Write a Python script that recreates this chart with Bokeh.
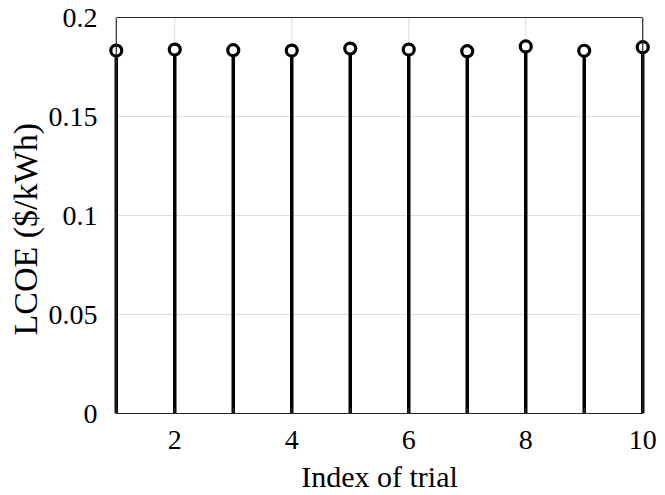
from bokeh.plotting import figure
from bokeh.models import FixedTicker, CustomJSTickFormatter, Span, LinearAxis, Title
from bokeh.embed import file_html
from bokeh.resources import INLINE

# LCOE obtained in each of ten optimisation trials
trials = [1, 2, 3, 4, 5, 6, 7, 8, 9, 10]
lcoe = [0.1833, 0.1838, 0.1835, 0.1833, 0.1843, 0.1838, 0.1830, 0.1854, 0.1832, 0.1850]

x_ticks = [2, 4, 6, 8, 10]
x_minor = [1, 3, 5, 7, 9]
y_ticks = [0, 0.05, 0.1, 0.15, 0.2]

X_LO, X_HI = 1, 10
Y_LO, Y_HI = 0, 0.2
PAD = 0.15  # a little room so the end markers are not cut by the frame

FONT = "Liberation Serif"
EDGE = "#262626"
GRID = "#dedede"

p = figure(width=665, height=495, output_backend="svg", toolbar_location=None,
           x_range=(X_LO - PAD, X_HI + PAD), y_range=(Y_LO, Y_HI),
           min_border_left=107, min_border_right=14,
           min_border_top=17, min_border_bottom=82)

p.background_fill_color = "white"
p.border_fill_color = "white"
p.outline_line_color = None
p.xgrid.visible = False
p.ygrid.visible = False

xa = p.below[0]
ya = p.left[0]

# grid lines, kept inside the axes box
for t in x_ticks[:-1]:
    p.segment(x0=[t], y0=[Y_LO], x1=[t], y1=[Y_HI], line_color=GRID, line_width=1)
for t in y_ticks[1:-1]:
    p.segment(x0=[X_LO], y0=[t], x1=[X_HI], y1=[t], line_color=GRID, line_width=1)

# stems from the baseline up to each value
zeros = [0] * len(trials)
p.segment(x0=trials, y0=zeros, x1=trials, y1=lcoe, line_color="black", line_width=3.5)
p.scatter(trials, lcoe, marker="circle", size=11, fill_color="white",
          line_color="black", line_width=3.2)

# box: left/right edges as spans, top/bottom as bounded axes
p.add_layout(Span(location=X_LO, dimension="height", line_color=EDGE, line_width=1.2))
p.add_layout(Span(location=X_HI, dimension="height", line_color=EDGE, line_width=1.2))

top = LinearAxis(bounds=(X_LO, X_HI), major_tick_in=0, major_tick_out=0,
                 minor_tick_in=0, minor_tick_out=0, major_label_text_font_size="0px",
                 axis_line_color=EDGE, axis_line_width=1.2, major_label_standoff=0)
top.ticker = FixedTicker(ticks=[])
p.add_layout(top, "above")

xa.bounds = (X_LO, X_HI)
xa.ticker = FixedTicker(ticks=x_ticks, minor_ticks=x_minor)
xa.axis_line_color = EDGE
xa.axis_line_width = 1.2
xa.major_tick_in = 6
xa.major_tick_out = 0
xa.minor_tick_in = 6
xa.minor_tick_out = 0
xa.major_tick_line_color = EDGE
xa.minor_tick_line_color = EDGE
xa.major_tick_line_width = 1.5
xa.minor_tick_line_width = 1.5
xa.major_label_text_font = FONT
xa.major_label_text_font_size = "28px"
xa.major_label_text_color = "black"
xa.major_label_standoff = 17
xa.axis_label = "Index of trial"
xa.axis_label_text_font = FONT
xa.axis_label_text_font_size = "30px"
xa.axis_label_text_font_style = "normal"
xa.axis_label_text_color = "black"
xa.axis_label_standoff = 8

ya.ticker = FixedTicker(ticks=y_ticks)
ya.formatter = CustomJSTickFormatter(code="return String(tick);")
ya.axis_line_color = None
ya.major_tick_line_color = None
ya.minor_tick_line_color = None
ya.major_label_text_font = FONT
ya.major_label_text_font_size = "28px"
ya.major_label_text_color = "black"
ya.major_label_standoff = 4

# y title starts a fixed distance above the bottom of the frame
p.add_layout(Title(text="LCOE ($/kWh)", align="left", offset=78, standoff=4,
                   text_font=FONT, text_font_size="34px", text_font_style="normal",
                   text_color="black"), "left")

open("out.html", "w").write(file_html(p, INLINE))
